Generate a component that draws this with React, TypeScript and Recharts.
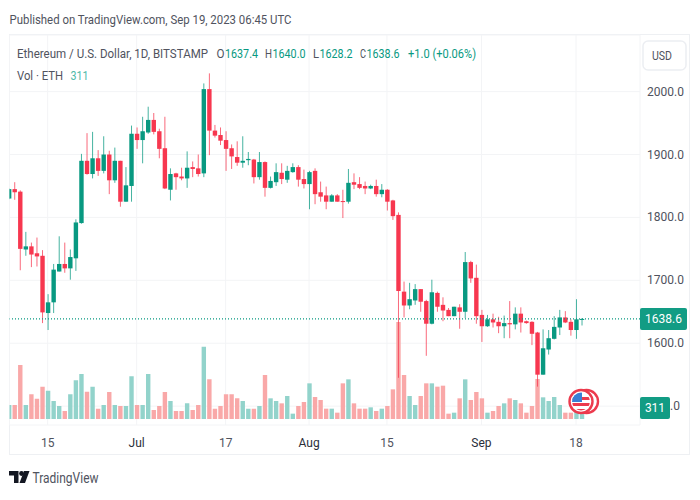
import React from 'react';
import { ComposedChart, Bar, XAxis, YAxis, CartesianGrid, ReferenceLine, Cell } from 'recharts';

const opens = [1830,1845,1841,1749,1754,1743,1739,1648,1665,1714,1726,1719,1735,1791,1890,1869,1894,1874,1900,1859,1890,1825,1850,1933,1923,1935,1955,1937,1910,1844,1870,1865,1862,1880,1878,1870,2004,1938,1931,1923,1910,1896,1887,1891,1892,1864,1888,1847,1856,1871,1860,1872,1880,1861,1853,1874,1840,1835,1825,1835,1826,1825,1856,1853,1850,1846,1850,1837,1844,1827,1804,1682,1660,1668,1686,1667,1631,1680,1661,1653,1643,1657,1650,1729,1704,1645,1627,1638,1634,1627,1632,1630,1647,1635,1634,1617,1550,1590,1607,1625,1641,1634,1621,1637.4];
const highs = [1846,1856,1843,1777,1760,1768,1748,1678,1726,1770,1760,1749,1797,1901,1934,1936,1907,1929,1906,1911,1890,1880,1946,1943,1960,1976,1966,1941,1960,1878,1871,1879,1905,1889,1900,2013,2029,1947,1943,1937,1916,1921,1929,1904,1893,1904,1889,1865,1886,1886,1882,1886,1883,1876,1874,1878,1857,1849,1837,1837,1844,1877,1870,1864,1857,1852,1860,1853,1845,1828,1808,1698,1696,1694,1686,1669,1701,1682,1673,1656,1658,1662,1745,1731,1725,1653,1645,1647,1642,1644,1667,1657,1657,1636,1635,1618,1622,1621,1643,1653,1651,1638,1670,1640];
const lows = [1829,1828,1716,1739,1721,1722,1632,1621,1648,1714,1712,1701,1715,1790,1868,1862,1866,1870,1837,1855,1817,1825,1825,1909,1886,1933,1932,1894,1845,1827,1844,1859,1847,1864,1865,1864,1899,1927,1915,1874,1877,1882,1879,1883,1854,1860,1833,1846,1850,1853,1855,1871,1849,1846,1813,1821,1825,1813,1825,1825,1799,1822,1845,1845,1837,1845,1833,1832,1811,1796,1545,1641,1654,1661,1650,1580,1630,1650,1635,1643,1643,1623,1640,1696,1631,1602,1626,1625,1616,1608,1608,1622,1617,1631,1597,1531,1550,1582,1606,1613,1632,1612,1607,1628.2];
const closes = [1845,1840,1750,1754,1741,1738,1649,1665,1717,1726,1719,1737,1792,1890,1869,1894,1874,1900,1859,1890,1825,1851,1933,1923,1937,1955,1936,1909,1846,1869,1864,1862,1879,1877,1869,2004,1938,1930,1922,1909,1897,1887,1890,1893,1864,1888,1847,1858,1872,1861,1874,1880,1860,1853,1872,1837,1833,1825,1835,1825,1825,1855,1852,1847,1846,1850,1837,1844,1825,1802,1683,1660,1670,1686,1666,1631,1681,1658,1652,1643,1658,1650,1729,1703,1643,1627,1638,1633,1627,1632,1630,1647,1633,1632,1615,1550,1592,1608,1626,1641,1633,1621,1638,1638.6];
const volumes = [396,396,1528,396,698,575,915,802,509,368,226,698,1094,1273,773,915,292,396,764,396,368,368,1207,396,396,1273,255,368,764,509,226,226,443,255,396,2046,1122,292,368,698,698,585,509,292,292,368,1245,585,509,443,651,151,368,481,1009,622,538,292,292,179,1009,1122,443,292,292,330,226,292,368,839,2745,1245,651,396,651,1009,1009,915,943,151,179,585,1122,538,764,585,179,226,368,443,585,538,443,179,368,1132,613,509,622,396,179,179,226,311];

const xTicks = [7, 23, 39, 54, 68, 85, 102];
const xTickLabels = ['15', 'Jul', '17', 'Aug', '15', 'Sep', '18'];
const priceTicks = [1500, 1600, 1700, 1800, 1900, 2000];
const lastPrice = 1638.6;
const lastVolume = 311;

const GREEN = '#089981';
const RED = '#f7374f';
const PALE_GREEN = '#92d3cb';
const PALE_RED = '#f9a8a8';
const TEXT = '#50535e';
const FONT = 'Roboto, sans-serif';

const chartData = opens.map((open, idx) => ({
  idx,
  open,
  high: highs[idx],
  low: lows[idx],
  close: closes[idx],
  volume: volumes[idx],
}));

function Candle(props: any) {
  const { x, y, width, height, payload } = props;
  const { open, high, low, close } = payload;
  const top = Math.min(y, y + height);
  const h = Math.abs(height);
  const perUnit = h / (high - low);
  const bodyTop = top + (high - Math.max(open, close)) * perUnit;
  const bodyH = Math.max(Math.abs(open - close) * perUnit, 1);
  const color = close >= open ? GREEN : RED;
  const cx = x + width / 2;
  return (
    <g>
      <line x1={cx} x2={cx} y1={top} y2={top + h} stroke={color} strokeWidth={1} strokeOpacity={0.75} />
      <rect x={x} y={bodyTop} width={width} height={bodyH} fill={color} />
    </g>
  );
}

function TimeTick(props: any) {
  const { x, y, index } = props;
  const label = xTickLabels[index];
  const isMonth = /[A-Za-z]/.test(label);
  return (
    <text x={x} y={y} textAnchor="middle" dominantBaseline="central" fontFamily={FONT} fontSize={12} fill={isMonth ? '#2a2e39' : TEXT}>
      {label}
    </text>
  );
}

// the 1500 label sits under the volume tag in the original, only its tail shows
function PriceTick(props: any) {
  const { x, y, payload } = props;
  const hidden = payload.value === 1500;
  return (
    <text x={hidden ? x + 23 : x} y={y} textAnchor="start" dominantBaseline="central" fontFamily={FONT} fontSize={12} fill={TEXT}>
      {hidden ? '.0' : payload.value.toFixed(1)}
    </text>
  );
}

function PriceTag(props: any) {
  const { viewBox, value, tagWidth } = props;
  const y = viewBox.y;
  return (
    <g>
      <rect x={viewBox.x + viewBox.width} y={y - 11} width={tagWidth} height={22} rx={2} fill="#129c84" />
      <text x={viewBox.x + viewBox.width + tagWidth / 2} y={y} textAnchor="middle" dominantBaseline="central" fontFamily={FONT} fontSize={12} fill="#ffffff">
        {value}
      </text>
    </g>
  );
}

function Txt({ x, y, w, color, children }: any) {
  return (
    <text x={x} y={y} fontFamily={FONT} fontSize={12} fill={color} textLength={w} lengthAdjust="spacingAndGlyphs">
      {children}
    </text>
  );
}

export default function App() {
  return (
    <div style={{ position: 'absolute', left: 0, top: 0, width: 700, height: 500, background: '#ffffff', overflow: 'hidden' }}>
      <div style={{ position: 'absolute', left: 9, top: 34, width: 681, height: 421, boxSizing: 'border-box', border: '1px solid #eef0f3' }} />
      <ComposedChart
        style={{ position: 'absolute', left: 0, top: 0 }}
        width={700}
        height={500}
        data={chartData}
        margin={{ top: 35, right: 10, bottom: 45, left: 9.5 }}
      >
        <CartesianGrid yAxisId="price" xAxisId="price" stroke="#f3f4f6" strokeWidth={1} />
        <XAxis
          xAxisId="price"
          dataKey="idx"
          type="number"
          domain={[0.137, 113.5]}
          allowDataOverflow
          ticks={xTicks}
          interval={0}
          tick={<TimeTick />}
          tickLine={false}
          axisLine={false}
          height={30}
          tickMargin={12}
        />
        <XAxis
          xAxisId="volume"
          dataKey="idx"
          type="number"
          domain={[0.137, 113.5]}
          allowDataOverflow
          hide
        />
        <YAxis
          yAxisId="price"
          orientation="right"
          domain={[1470, 2090]}
          ticks={priceTicks}
          interval={0}
          width={50}
          tickLine={false}
          axisLine={false}
          tickMargin={7}
          tickSize={0}
          tick={<PriceTick />}
        />
        <YAxis yAxisId="volume" hide domain={[-170, 10867]} />
        <Bar xAxisId="volume" yAxisId="volume" dataKey="volume" barSize={4.4} isAnimationActive={false}>
          {chartData.map((d) => (
            <Cell key={d.idx} fill={d.close >= d.open ? PALE_GREEN : PALE_RED} />
          ))}
        </Bar>
        <Bar
          xAxisId="price"
          yAxisId="price"
          dataKey={(d: any) => [d.low, d.high]}
          barSize={4.4}
          shape={<Candle />}
          isAnimationActive={false}
        />
        <ReferenceLine
          xAxisId="price"
          yAxisId="price"
          y={lastPrice}
          stroke={GREEN}
          strokeWidth={1.2}
          strokeDasharray="1 2"
          label={<PriceTag value={lastPrice.toFixed(1)} tagWidth={47} />}
        />
        <ReferenceLine
          xAxisId="volume"
          yAxisId="volume"
          y={lastVolume}
          stroke="none"
          label={<PriceTag value={String(lastVolume)} tagWidth={30} />}
        />
      </ComposedChart>
      <svg width={700} height={500} style={{ position: 'absolute', left: 0, top: 0, pointerEvents: 'none' }}>
        <Txt x={9.5} y={24} w={282} color={TEXT}>Published on TradingView.com, Sep 19, 2023 06:45 UTC</Txt>
        <Txt x={17} y={58} w={191} color={TEXT}>Ethereum / U.S. Dollar, 1D, BITSTAMP</Txt>
        <Txt x={216.5} y={58} w={8} color={TEXT}>O</Txt>
        <Txt x={225} y={58} w={33} color={GREEN}>1637.4</Txt>
        <Txt x={265} y={58} w={7} color={TEXT}>H</Txt>
        <Txt x={272.5} y={58} w={33} color={GREEN}>1640.0</Txt>
        <Txt x={313} y={58} w={6} color={TEXT}>L</Txt>
        <Txt x={319.5} y={58} w={33} color={GREEN}>1628.2</Txt>
        <Txt x={360} y={58} w={6} color={TEXT}>C</Txt>
        <Txt x={366.5} y={58} w={33} color={GREEN}>1638.6</Txt>
        <Txt x={408} y={58} w={68} color={GREEN}>+1.0 (+0.06%)</Txt>
        <Txt x={17} y={80} w={46} color={TEXT}>Vol · ETH</Txt>
        <Txt x={70.5} y={80} w={18} color="#4fb9a8">311</Txt>

        <rect x={643} y={41} width={43} height={29} rx={5} fill="#ffffff" stroke="#eceef2" strokeWidth={1.5} />
        <Txt x={652} y={60} w={20} color={TEXT}>USD</Txt>

        <circle cx={586.5} cy={401.5} r={11.5} fill="#ffffff" stroke="#ec3a4d" strokeWidth={2.4} />
        <circle cx={581} cy={401.5} r={11.5} fill="#ffffff" stroke="#ec3a4d" strokeWidth={2.4} />
        <clipPath id="flagClip">
          <circle cx={581} cy={401.5} r={9} />
        </clipPath>
        <g clipPath="url(#flagClip)">
          <rect x={571} y={392} width={20} height={20} fill="#ffffff" />
          <rect x={571} y={397} width={20} height={3} fill="#ec3a4d" />
          <rect x={571} y={403} width={20} height={3} fill="#ec3a4d" />
          <rect x={571} y={409} width={20} height={3} fill="#ec3a4d" />
          <rect x={571} y={392} width={11} height={10} fill="#3a7fd5" />
        </g>

        <path d="M9 471h9.5v12h-4.5v-7.5h-5z" fill="#131722" />
        <circle cx={21.5} cy={473.5} r={2.4} fill="#131722" />
        <path d="M19.5 483l4.5-12h5.5L25 483z" fill="#131722" />
        <text x={32.5} y={483} fontFamily={FONT} fontSize={15} fill="#50535e" textLength={66} lengthAdjust="spacingAndGlyphs">TradingView</text>
      </svg>
    </div>
  );
}
